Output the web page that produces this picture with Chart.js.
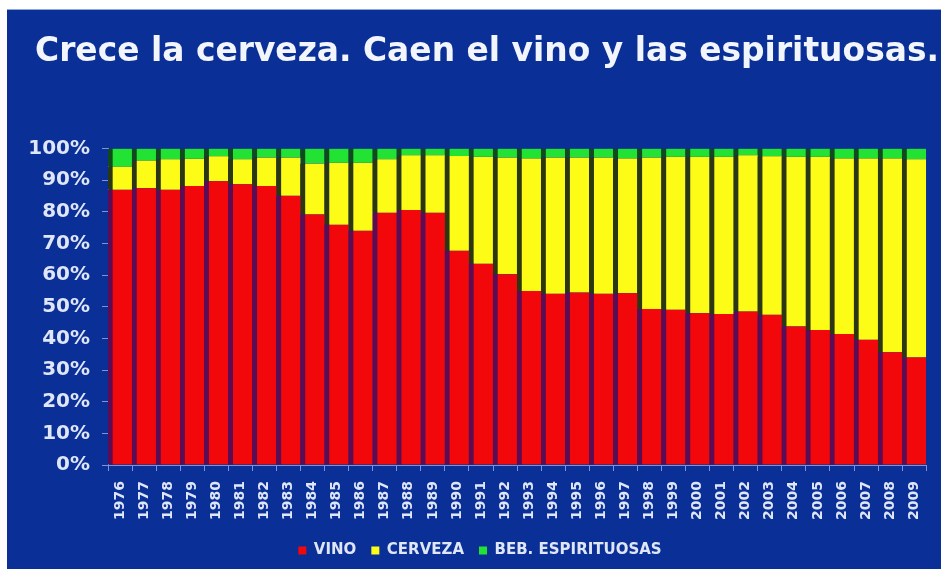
<!DOCTYPE html>
<html>
<head>
<meta charset="utf-8">
<script src="https://cdn.jsdelivr.net/npm/chart.js@4"></script>
<style>
  html, body { margin: 0; padding: 0; background: #ffffff; }
  #panel {
    position: absolute; left: 7px; top: 9px; width: 934px; height: 560px;
    background: #0a2f96; border-top: 1px solid #8aa6e0; box-sizing: border-box;
  }
</style>
</head>
<body>
<div id="panel"><canvas id="drinksChart"></canvas></div>
<script>
const YEARS = ['1976', '1977', '1978', '1979', '1980', '1981', '1982', '1983', '1984', '1985',
  '1986', '1987', '1988', '1989', '1990', '1991', '1992', '1993', '1994', '1995',
  '1996', '1997', '1998', '1999', '2000', '2001', '2002', '2003', '2004', '2005',
  '2006', '2007', '2008', '2009']

const VINO = [87.0, 87.5, 87.0, 88.2, 89.7, 88.7, 88.2, 85.1, 79.2, 75.9,
  74.0, 79.7, 80.6, 79.7, 67.7, 63.6, 60.3, 55.0, 54.1, 54.5,
  54.1, 54.3, 49.3, 49.1, 48.0, 47.7, 48.5, 47.5, 43.8, 42.7,
  41.4, 39.6, 35.6, 34.0]

const CERVEZA = [7.3, 8.7, 9.6, 8.6, 7.9, 7.9, 9.0, 12.1, 16.1, 19.6,
  21.5, 16.9, 17.3, 18.2, 30.0, 33.8, 36.9, 41.9, 43.1, 42.7,
  43.1, 42.6, 47.9, 48.3, 49.4, 49.7, 49.4, 50.1, 53.6, 54.7,
  55.5, 57.3, 61.3, 62.6]

const ESPIRITUOSAS = [5.7, 3.8, 3.4, 3.2, 2.4, 3.4, 2.8, 2.8, 4.7, 4.5,
  4.5, 3.4, 2.1, 2.1, 2.3, 2.6, 2.8, 3.1, 2.8, 2.8,
  2.8, 3.1, 2.8, 2.6, 2.6, 2.6, 2.1, 2.4, 2.6, 2.6,
  3.1, 3.1, 3.1, 3.4]

const Y_TICKS = [0, 10, 20, 30, 40, 50, 60, 70, 80, 90, 100]

const TEXT = '#dfe6f7'
const AXIS = '#8391d2'
const SHADOW = { left: 5, right: 0, top: 0, bottom: 0 }

const makeSet = (label, data, fill, dark) => ({
    label: label,
    data: data,
    backgroundColor: fill,
    borderColor: dark,
    borderWidth: SHADOW,
    borderSkipped: false,
    categoryPercentage: 1.0,
    barPercentage: 1.0,
})

// the title sits further right than the y axis labels
const titleShift = {
    id: 'titleShift',
    afterLayout: (chart) => { chart.titleBlock.left += 14 },
}

const ctx = document.getElementById('drinksChart').getContext('2d')
new Chart(ctx, {
    type: 'bar',
    data: {
        labels: YEARS,
        datasets: [
            makeSet('VINO', VINO, '#f2080a', '#5a0c55'),
            makeSet('CERVEZA', CERVEZA, '#fdfc17', '#2b3612'),
            makeSet('BEB. ESPIRITUOSAS', ESPIRITUOSAS, '#22e234', '#0f4a1c'),
        ]
    },
    plugins: [titleShift],
    options: {
        responsive: true,
        maintainAspectRatio: false,
        animation: false,
        layout: { padding: { left: 14, right: 2, top: 0, bottom: 1 } },
        plugins: {
            title: {
                display: true,
                text: 'Crece la cerveza. Caen el vino y las espirituosas.',
                align: 'start',
                color: '#f2f5fc',
                font: { family: 'DejaVu Sans', size: 33, weight: 'bold' },
                padding: { top: 23, bottom: 76 },
            },
            legend: {
                position: 'bottom',
                labels: {
                    color: TEXT,
                    font: { family: 'DejaVu Sans', size: 15, weight: 'bold' },
                    boxWidth: 8,
                    boxHeight: 8,
                    padding: 15,
                    generateLabels: (chart) => Chart.defaults.plugins.legend.labels.generateLabels(chart)
                        .map(item => ({ ...item, lineWidth: 0, strokeStyle: item.fillStyle })),
                },
            },
            tooltip: { enabled: false },
        },
        scales: {
            x: {
                stacked: true,
                afterFit: (scale) => { scale.height = 63 },
                grid: { drawOnChartArea: false, color: AXIS, tickLength: 6, offset: true },
                border: { display: true, color: AXIS },
                ticks: {
                    color: TEXT,
                    autoSkip: false,
                    maxRotation: 90,
                    minRotation: 90,
                    padding: 10,
                    font: { family: 'DejaVu Sans', size: 14, weight: 'bold' },
                },
            },
            y: {
                stacked: true,
                min: 0,
                max: 100,
                afterFit: (scale) => { scale.width = 87 },
                afterBuildTicks: (scale) => { scale.ticks = Y_TICKS.map(v => ({ value: v })) },
                grid: { drawOnChartArea: false, color: AXIS, tickLength: 6 },
                border: { display: true, color: AXIS },
                ticks: {
                    color: TEXT,
                    padding: 12,
                    font: { family: 'DejaVu Sans', size: 20, weight: 'bold' },
                    callback: (v) => v + '%',
                },
            },
        },
    },
})
</script>
</body>
</html>
